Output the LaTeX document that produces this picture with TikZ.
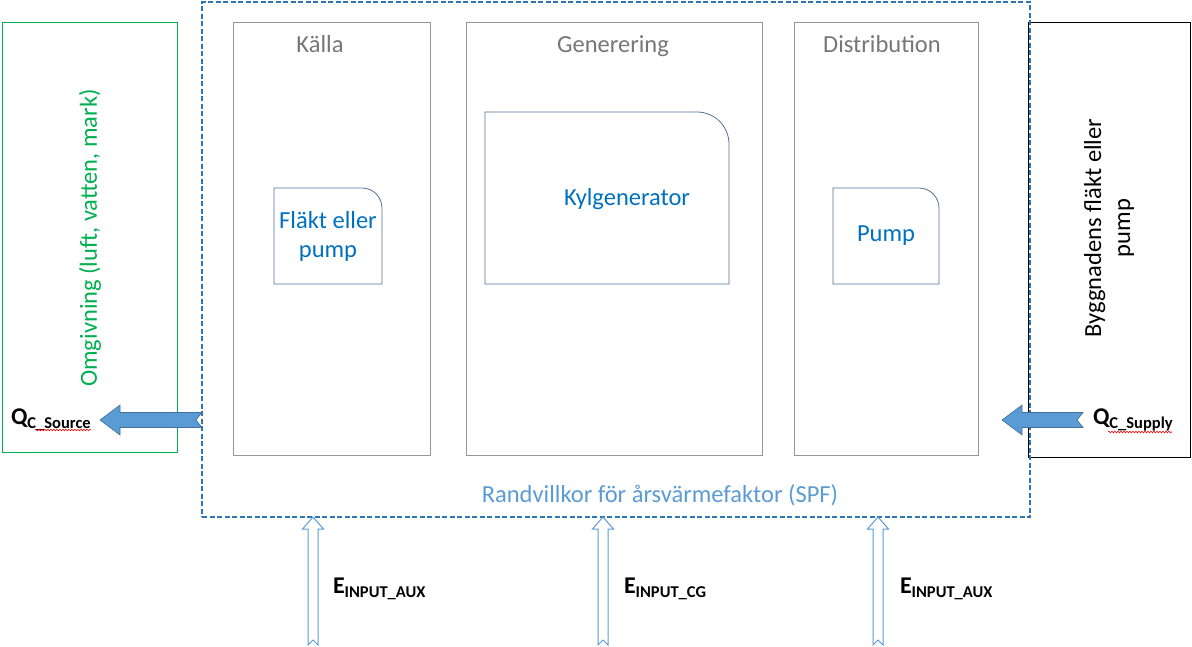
\documentclass[tikz,border=0pt]{standalone}
\usepackage{fontspec}
\setmainfont{Carlito}
\usetikzlibrary{calc,decorations.pathmorphing}
\definecolor{envgreen}{RGB}{0,176,80}
\definecolor{spfblue}{RGB}{46,117,182}
\definecolor{unitblue}{RGB}{0,112,192}
\definecolor{unitedge}{RGB}{84,110,150}
\definecolor{flowblue}{RGB}{91,155,213}
\definecolor{flowedge}{RGB}{65,113,156}
\definecolor{stagegray}{RGB}{150,150,150}
\definecolor{stagetext}{RGB}{118,118,118}
\newcommand\flowsub[1]{\raisebox{-4pt}{\fontsize{16.5}{18}\selectfont #1}}

\begin{document}
\begin{tikzpicture}[
  x=1pt, y=-1pt,
  every node/.style={inner sep=0pt, outer sep=0pt, align=center, font=\fontsize{24.5}{29}\selectfont},
  envbox/.style={draw=envgreen, line width=0.8pt},
  spfbox/.style={draw=spfblue, line width=1.3pt, dash pattern=on 5pt off 2.5pt},
  stagebox/.style={draw=stagegray, line width=0.8pt, minimum height=433pt},
  stagelabel/.style={text=stagetext, anchor=base},
  unitbox/.style={minimum height=96pt},
  unitline/.style={draw=unitedge, line width=0.8pt},
  unittext/.style={text=unitblue},
  flowarrow/.style={fill=flowblue, draw=flowedge, line width=0.6pt},
  hollowarrow/.style={fill=white, draw=flowblue, line width=1pt},
  flowlabel/.style={anchor=base west, font=\fontsize{24}{29}\selectfont\bfseries},
  squiggle/.style={draw=red, line width=0.6pt, decorate, decoration={snake, amplitude=0.8pt, segment length=3pt}}
]
\useasboundingbox (0,0) rectangle (1192,646);

\node[envbox, minimum width=175pt, minimum height=430pt] (omg) at (89.5,237) {};
\node[text=envgreen, rotate=90] (omg-t) at (90,238) {Omgivning (luft, vatten, mark)};

\node[draw, line width=0.8pt, minimum width=162pt, minimum height=435pt] (bygg) at (1109,239.5) {};
\node[rotate=90] (bygg-t) at (1109,228) {Byggnadens fläkt eller\\pump};

\node[stagebox, minimum width=197pt] (kalla) at (331.5,238.5) {};
\node[stagebox, minimum width=296pt] (gen)   at (614,238.5)   {};
\node[stagebox, minimum width=184pt] (dist)  at (886,238.5)   {};
\node[stagelabel] (kalla-t) at (320,52) {Källa};
\node[stagelabel] (gen-t)   at (613,52) {Generering};
\node[stagelabel] (dist-t)  at (882,52) {Distribution};

\node[unitbox, unittext, minimum width=108pt] (flakt) at (328,236) {Fläkt eller\\pump};
\node[minimum width=244pt, minimum height=172pt] (kyl) at (607,198) {};
\node[unittext, anchor=base] (kyl-t) at ($(kyl)+(20,7)$) {Kylgenerator};
\node[unitbox, unittext, minimum width=106pt] (pump) at (886,236) {Pump};
\foreach \a/\r in {flakt/20pt,kyl/32pt,pump/20pt}
  \draw[unitline] (\a.south west) -- (\a.north west) -- ([xshift=-\r]\a.north east)
    arc[start angle=90, end angle=0, radius=\r] -- (\a.south east) -- cycle;

\node[spfbox, minimum width=828pt, minimum height=515pt] (spf) at (616,259.5) {};
\node[text=flowblue, anchor=base] (spf-t) at (660,502) {Randvillkor för årsvärmefaktor (SPF)};

\coordinate (src-tip) at (100,420);
\coordinate (src-tail) at (spf.west |- src-tip);
\coordinate (sup-tip) at (1002,420);
\coordinate (sup-tail) at (1083,420);
\foreach \a in {src,sup}
  \draw[flowarrow] let \p1=(\a-tip), \p2=(\a-tail) in
    (\x1,\y1) -- (\x1+20pt,\y1+15pt) -- (\x1+20pt,\y1+7.5pt) -- (\x2,\y1+7.5pt) -- (\x2-6pt,\y1)
    -- (\x2,\y1-7.5pt) -- (\x1+20pt,\y1-7.5pt) -- (\x1+20pt,\y1-15pt) -- cycle;

\foreach \a/\px in {aux1/313,cg/603,aux2/878}{
  \coordinate (\a-end) at (\px,645);
  \draw[hollowarrow] let \p1=(\a-end |- spf.south), \p2=(\a-end) in
    (\x1,\y1) -- (\x1+10.5pt,\y1-12pt) -- (\x1+5pt,\y1-12pt) -- (\x1+5pt,\y2) -- (\x1,\y2+5pt)
    -- (\x1-5pt,\y2) -- (\x1-5pt,\y1-12pt) -- (\x1-10.5pt,\y1-12pt) -- cycle;
}

\node[flowlabel] (src-q) at (11,424)   {Q\flowsub{C\_Source}};
\node[flowlabel] (sup-q) at (1093,424) {Q\flowsub{C\_Supply}};
\draw[squiggle] (35,430) -- (91,430);
\draw[squiggle] (1108,432) -- (1172,432);

\node[flowlabel] (aux1-e) at (333,593) {E\flowsub{INPUT\_AUX}};
\node[flowlabel] (cg-e)   at (624,593) {E\flowsub{INPUT\_CG}};
\node[flowlabel] (aux2-e) at (900,593) {E\flowsub{INPUT\_AUX}};
\end{tikzpicture}
\end{document}
